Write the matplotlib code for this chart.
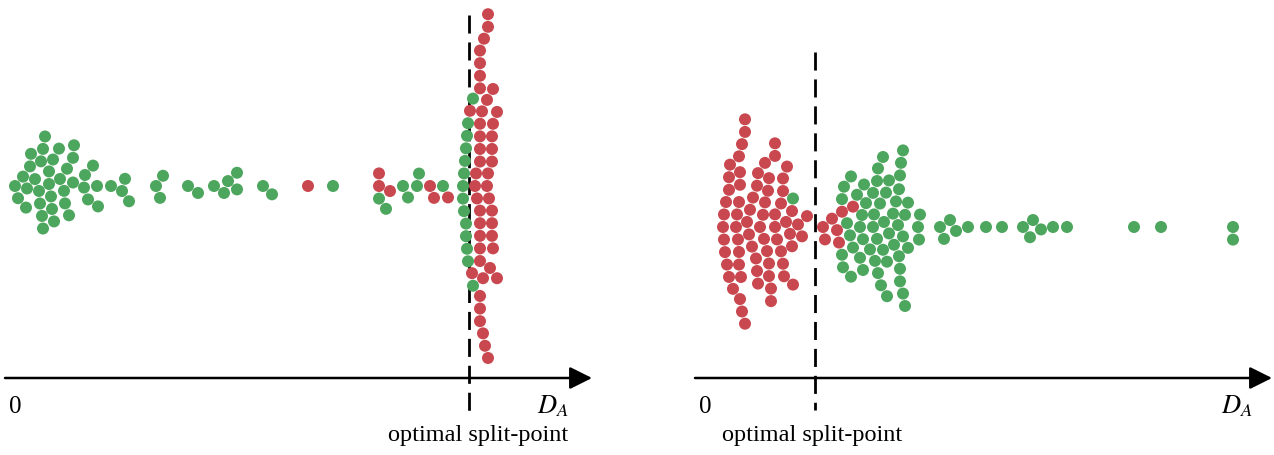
import matplotlib
matplotlib.use("Agg")
import matplotlib.pyplot as plt
import pandas as pd
import seaborn as sns

GREEN = "#4da65e"
RED = "#c9484f"

# D_A values (offset from the "0" mark)
left_green = [0, 3, 8, 12, 11, 15, 16, 20, 25, 24, 26, 27, 28, 28, 30, 34, 34,
              36, 37, 38, 39, 44, 45, 49, 50, 52, 54, 58, 58, 59, 69, 70, 73,
              78, 82, 83, 96, 107, 110, 114, 141, 145, 148, 173, 183, 199, 209,
              213, 222, 222, 248, 257, 318, 371, 364, 393, 404, 388, 402, 428,
              458, 453, 452, 451, 451, 450, 449, 448, 448, 449, 451, 452, 453, 458]
left_red = [293, 364, 375, 364, 419, 415, 433, 457, 455,
            465, 473, 465, 465, 478, 465, 477, 465, 477, 470, 469, 465, 477,
            465, 477, 465, 474, 462, 473, 460, 472, 482, 467, 482, 472, 465,
            475, 465, 477, 465, 478, 468, 468, 461, 473, 465, 477, 465, 478,
            465, 465, 465, 473]
left_split = 454

right_green = [88, 181, 200, 178, 198, 175, 195, 161, 146, 157, 172, 191, 138,
               152, 169, 184, 198, 137, 165, 179, 193, 215, 145, 158, 173, 188,
               203, 142, 155, 168, 182, 195, 213, 158, 176, 189, 203, 214, 148,
               168, 182, 194, 137, 155, 170, 184, 139, 159, 173, 194, 146, 172,
               195, 178, 196, 198, 200,
               239, 235, 251, 245, 263, 281, 297, 318, 325, 328, 336, 348, 362,
               429, 456, 528, 528]
right_red = [40, 35, 31, 25, 24, 24, 20, 19, 18, 19, 21, 22, 24, 28, 34, 35, 40,
             40, 37, 36, 34, 34, 32, 33, 34, 35, 37, 42, 70, 70, 64, 55, 53, 66,
             64, 52, 48, 62, 47, 60, 44, 58, 45, 59, 51, 63, 52, 64, 53, 60, 66,
             70, 88, 87, 81, 78, 78, 76, 70, 72, 76, 78, 79, 85, 93, 82, 97, 87,
             102, 120, 118, 134, 132, 127, 137, 148]
right_split = 110

plt.rcParams["font.family"] = ["Liberation Serif", "DejaVu Serif"]
plt.rcParams["mathtext.fontset"] = "stix"

H = 455.0
fig = plt.figure(figsize=(12.74, 4.55), dpi=100)


def panel(rect, green, red, split, xlim, center_px, split_px, arrow_x, da_x, text_x):
    ax = fig.add_axes(rect)
    df = pd.DataFrame({"D": green + red,
                       "cls": ["g"] * len(green) + ["r"] * len(red),
                       "row": "a"})
    sns.swarmplot(data=df, x="D", y="row", hue="cls",
                  palette={"g": GREEN, "r": RED}, size=8.64, linewidth=0,
                  legend=False, ax=ax)
    ax.set_xlim(*xlim)
    top = -center_px / H
    ax.set_ylim(top + 1, top)
    ax.set_axis_off()
    tr = ax.get_xaxis_transform()

    # horizontal axis with arrow head
    ya = 1 - 378 / H
    ax.annotate("", xy=(arrow_x[1], ya), xytext=(arrow_x[0], ya),
                xycoords=tr, textcoords=tr,
                arrowprops=dict(arrowstyle="-|>,head_length=0.68,head_width=0.34",
                                mutation_scale=20, lw=1.8, color="black",
                                shrinkA=0, shrinkB=0))
    # split point
    ax.plot([split, split], [1 - split_px[0] / H, 1 - split_px[1] / H],
            transform=tr, color="black", lw=2, linestyle=(0, (6.5, 3.2)),
            clip_on=False)

    ax.text(0, 1 - 407 / H, "0", transform=tr, ha="center", va="center",
            fontsize=18)
    ax.text(da_x, 1 - 406 / H, "$D_A$", transform=tr, ha="center",
            va="center", fontsize=19)
    ax.text(text_x, 1 - 441 / H, "optimal split-point", transform=tr,
            ha="center", va="baseline", fontsize=17.5)
    return ax


panel([0, 0, 0.5, 1], left_green, left_red, left_split, (-15, 622), 186,
      (15, 415), (-10, 577), 538, 463)
panel([0.5, 0, 0.5, 1], right_green, right_red, right_split, (-68, 569), 227,
      (52, 410), (-10, 567), 532, 107)

fig.savefig("out.png", dpi=100)
